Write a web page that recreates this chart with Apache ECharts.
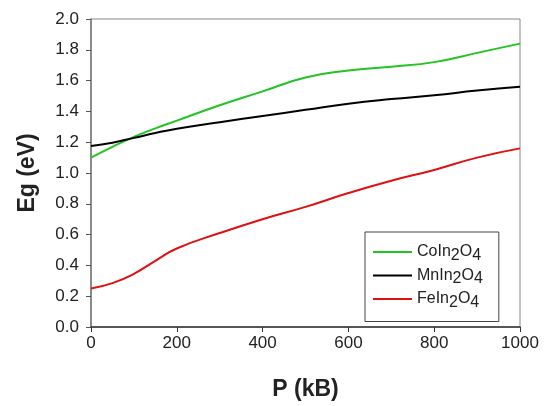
<!DOCTYPE html>
<html>
<head>
<meta charset="utf-8">
<script src="https://cdn.jsdelivr.net/npm/echarts@6/dist/echarts.min.js"></script>
<style>
html, body { margin: 0; padding: 0; background: #fff; }
#chart { width: 549px; height: 406px; }
</style>
</head>
<body>
<div id="chart"></div>
<script>
// pressure (kB)
var pressure = [0, 50, 100, 150, 200, 300, 400, 500, 600, 700, 800, 900, 1000];
// band gap (eV)
var coIn2O4 = [1.10, 1.17, 1.235, 1.29, 1.34, 1.44, 1.53, 1.62, 1.665, 1.69, 1.72, 1.78, 1.84];
var mnIn2O4 = [1.175, 1.197, 1.228, 1.26, 1.288, 1.33, 1.37, 1.41, 1.45, 1.48, 1.505, 1.535, 1.56];
var feIn2O4 = [0.25, 0.285, 0.345, 0.43, 0.51, 0.61, 0.70, 0.78, 0.87, 0.95, 1.02, 1.10, 1.16];
var seriesNames = ['CoIn2O4', 'MnIn2O4', 'FeIn2O4'];
var seriesColors = ['#22c422', '#000000', '#dd1111'];
var seriesData = [coIn2O4, mnIn2O4, feIn2O4];

var myChart = echarts.init(document.getElementById('chart'));

function pairs(ys) {
	var out = [];
	for (var i = 0; i < pressure.length; i++) {
		out.push([pressure[i], ys[i]]);
	}
	return out;
}

var series = [];
for (var i = 0; i < seriesNames.length; i++) {
	series.push({
		name: seriesNames[i],
		type: 'line',
		data: pairs(seriesData[i]),
		smooth: 0.5,
		symbol: 'none',
		showSymbol: false,
		lineStyle: { color: seriesColors[i], width: 2 },
		itemStyle: { color: seriesColors[i] }
	});
}

var fontName = 'Liberation Sans, Arial, sans-serif';

var option = {
	animation: false,
	grid: {
		left: 91, right: 29, top: 19, bottom: 78,
		show: true, borderColor: '#888', borderWidth: 1
	},
	legend: {
		orient: 'vertical',
		left: 365, top: 232,
		data: seriesNames,
		icon: 'rect',
		itemWidth: 39, itemHeight: 2, itemGap: 4,
		padding: [12, 16, 11, 8],
		borderColor: '#444', borderWidth: 1,
		formatter: function(name) {
			return name.replace(/(\d)/g, '{s|$1}');
		},
		textStyle: {
			fontFamily: fontName,
			fontSize: 16, color: '#222',
			rich: {
				s: { fontSize: 16, padding: [7, 0, 0, 0], fontFamily: fontName, color: '#222' }
			}
		}
	},
	xAxis: {
		type: 'value',
		min: 0, max: 1000, interval: 200,
		name: 'P (kB)',
		nameLocation: 'middle',
		nameGap: 51,
		nameTextStyle: { fontFamily: fontName, fontSize: 23, fontWeight: 'bold', color: '#222' },
		axisLine: { lineStyle: { color: '#333', width: 1.5 } },
		axisTick: { inside: false, length: 5, lineStyle: { color: '#333' } },
		axisLabel: {
			fontFamily: fontName, fontSize: 17, color: '#222',
			formatter: function(v) { return String(v); }
		},
		splitLine: { show: false }
	},
	yAxis: {
		type: 'value',
		min: 0, max: 2, interval: 0.2,
		name: 'Eg (eV)',
		nameLocation: 'middle',
		nameGap: 52,
		nameTextStyle: { fontFamily: fontName, fontSize: 23, fontWeight: 'bold', color: '#222' },
		axisLine: { show: true, lineStyle: { color: '#777', width: 1.5 } },
		axisTick: { show: true, inside: false, length: 5, lineStyle: { color: '#555' } },
		axisLabel: {
			fontFamily: fontName, fontSize: 17, color: '#222', margin: 12,
			formatter: function(v) { return v.toFixed(1); }
		},
		splitLine: { show: false }
	},
	series: series
};
myChart.setOption(option);
</script>
</body>
</html>
